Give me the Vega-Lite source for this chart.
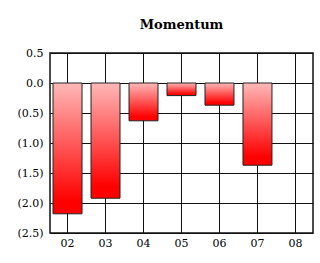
{
  "$schema": "https://vega.github.io/schema/vega-lite/v6.json",
  "width": 263,
  "height": 180,
  "autosize": {"type": "none"},
  "padding": {"left": 50, "top": 53, "right": 7, "bottom": 30},
  "background": "white",
  "title": {
    "text": "Momentum",
    "font": "DejaVu Serif",
    "fontSize": 13,
    "fontWeight": "bold",
    "color": "#000",
    "anchor": "middle",
    "offset": 15
  },
  "data": {
    "values": [
      {"period": "02", "value": -2.18},
      {"period": "03", "value": -1.92},
      {"period": "04", "value": -0.63},
      {"period": "05", "value": -0.21},
      {"period": "06", "value": -0.37},
      {"period": "07", "value": -1.37},
      {"period": "08", "value": null}
    ]
  },
  "mark": {
    "type": "bar",
    "stroke": "#222",
    "strokeWidth": 1,
    "color": {
      "gradient": "linear",
      "x1": 0, "y1": 0, "x2": 0, "y2": 1,
      "stops": [
        {"offset": 0, "color": "#ffb8b8"},
        {"offset": 0.9, "color": "#ff0000"},
        {"offset": 1, "color": "#ff0000"}
      ]
    }
  },
  "encoding": {
    "x": {
      "field": "period",
      "type": "nominal",
      "sort": null,
      "scale": {"domain": ["02", "03", "04", "05", "06", "07", "08"], "paddingInner": 0.237, "paddingOuter": 0.08},
      "axis": {
        "title": null,
        "grid": true,
        "gridColor": "#111",
        "gridWidth": 1,
        "gridOpacity": 1,
        "ticks": true,
        "tickSize": 0,
        "domain": false,
        "labelAngle": 0,
        "labelFont": "DejaVu Serif",
        "labelFontSize": 11,
        "labelColor": "#000",
        "labelPadding": 4
      }
    },
    "y": {
      "field": "value",
      "type": "quantitative",
      "scale": {"domain": [-2.5, 0.5], "nice": false, "zero": false},
      "axis": {
        "title": null,
        "values": [0.5, 0, -0.5, -1, -1.5, -2, -2.5],
        "labelExpr": "datum.value < 0 ? '(' + format(-datum.value, '.1f') + ')' : format(datum.value, '.1f')",
        "grid": true,
        "gridColor": "#111",
        "gridWidth": 1,
        "gridOpacity": 1,
        "ticks": true,
        "tickSize": 0,
        "domain": false,
        "labelFont": "DejaVu Serif",
        "labelFontSize": 11,
        "labelColor": "#000",
        "labelPadding": 7
      }
    }
  },
  "config": {
    "view": {"stroke": "#111", "strokeWidth": 1.5}
  }
}
